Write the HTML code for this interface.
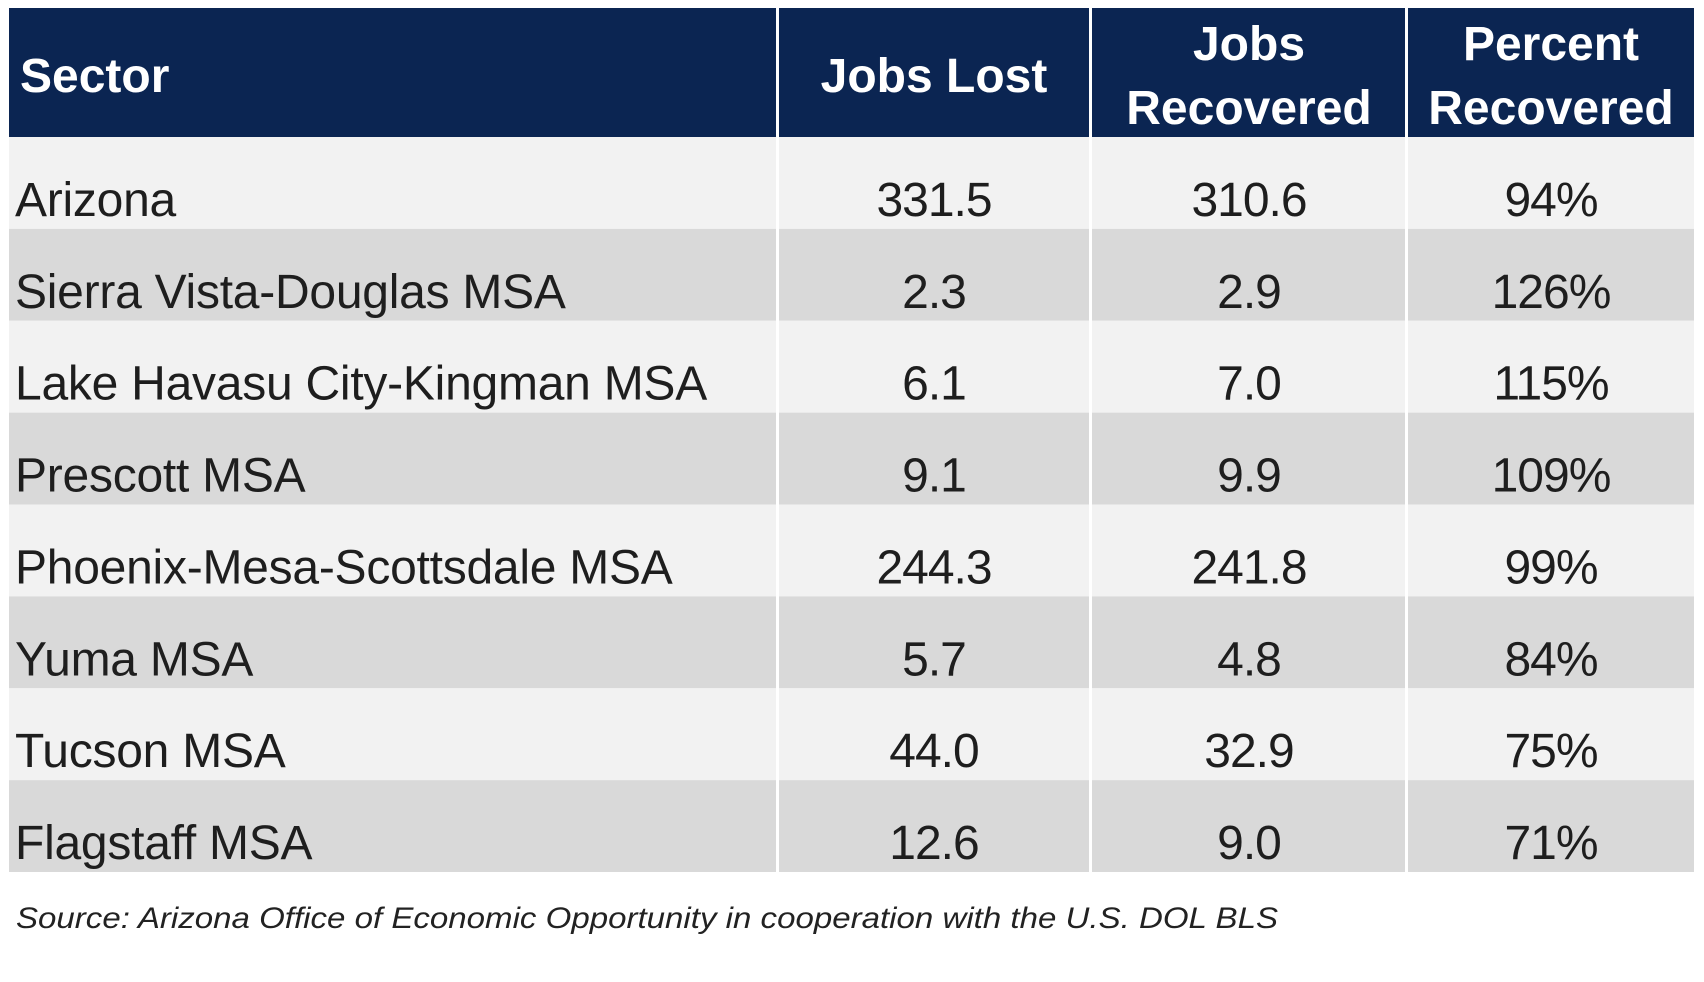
<!DOCTYPE html>
<html><head><meta charset="utf-8"><style>
html,body{margin:0;padding:0;background:#fff;}
svg{display:block;}
</style></head><body>
<svg id="tbl" width="1704" height="982" viewBox="0 0 1704 982" xmlns="http://www.w3.org/2000/svg" font-family="Liberation Sans, Arial, sans-serif">
<rect x="0" y="0" width="1704" height="982" fill="#fff"/>
<g id="header">
<rect x="9" y="8" width="767" height="129" fill="#0b2552"/>
<rect x="779" y="8" width="310" height="129" fill="#0b2552"/>
<rect x="1092" y="8" width="313" height="129" fill="#0b2552"/>
<rect x="1408" y="8" width="286" height="129" fill="#0b2552"/>
<text x="20" y="92" fill="#fff" font-weight="bold" font-size="48">Sector</text>
<text x="934" y="92" fill="#fff" font-weight="bold" font-size="48" text-anchor="middle">Jobs Lost</text>
<text x="1249" y="60" fill="#fff" font-weight="bold" font-size="48" text-anchor="middle">Jobs</text>
<text x="1249" y="124" fill="#fff" font-weight="bold" font-size="48" text-anchor="middle">Recovered</text>
<text x="1551" y="60" fill="#fff" font-weight="bold" font-size="48" text-anchor="middle">Percent</text>
<text x="1551" y="124" fill="#fff" font-weight="bold" font-size="48" text-anchor="middle">Recovered</text>
</g>
<g id="body"></g>
<text x="16" y="928" fill="#222" font-style="italic" font-size="30" textLength="1262" lengthAdjust="spacingAndGlyphs">Source: Arizona Office of Economic Opportunity in cooperation with the U.S. DOL BLS</text>
</svg>
<script>
const sectors = ["Arizona","Sierra Vista-Douglas MSA","Lake Havasu City-Kingman MSA","Prescott MSA","Phoenix-Mesa-Scottsdale MSA","Yuma MSA","Tucson MSA","Flagstaff MSA"];
const jobsLost = ["331.5","2.3","6.1","9.1","244.3","5.7","44.0","12.6"];
const jobsRecovered = ["310.6","2.9","7.0","9.9","241.8","4.8","32.9","9.0"];
const percentRecovered = ["94%","126%","115%","109%","99%","84%","75%","71%"];
const NS = "http://www.w3.org/2000/svg";
const body = document.getElementById('body');
const top0 = 137, rowH = (872 - 137) / 8;
const cols = [[9,776],[779,1089],[1092,1405],[1408,1694]];
const centers = [934, 1249, 1551];
sectors.forEach((s, i) => {
  const y = top0 + i * rowH;
  const g = document.createElementNS(NS, 'g');
  
  
  const fill = i % 2 === 0 ? '#f2f2f2' : '#d9d9d9';
  cols.forEach(c => {
    const r = document.createElementNS(NS, 'rect');
    
    
    r.setAttribute('x', c[0]); r.setAttribute('y', y);
    r.setAttribute('width', c[1] - c[0]); r.setAttribute('height', rowH);
    r.setAttribute('fill', fill);
    g.appendChild(r);
  });
  const vals = [s, jobsLost[i], jobsRecovered[i], percentRecovered[i]];
  vals.forEach((v, k) => {
    const t = document.createElementNS(NS, 'text');
    
    
    t.setAttribute('y', y + rowH / 2 + 33);
    t.setAttribute('font-size', '48');
    t.setAttribute('fill', '#1e1e1e');
    if (k === 0) { t.setAttribute('x', 15); t.setAttribute('letter-spacing', '-0.25'); }
    else { t.setAttribute('x', centers[k - 1]); t.setAttribute('text-anchor', 'middle'); t.setAttribute('letter-spacing', '-1'); }
    t.textContent = v;
    g.appendChild(t);
  });
  body.appendChild(g);
});
</script>
</body></html>
